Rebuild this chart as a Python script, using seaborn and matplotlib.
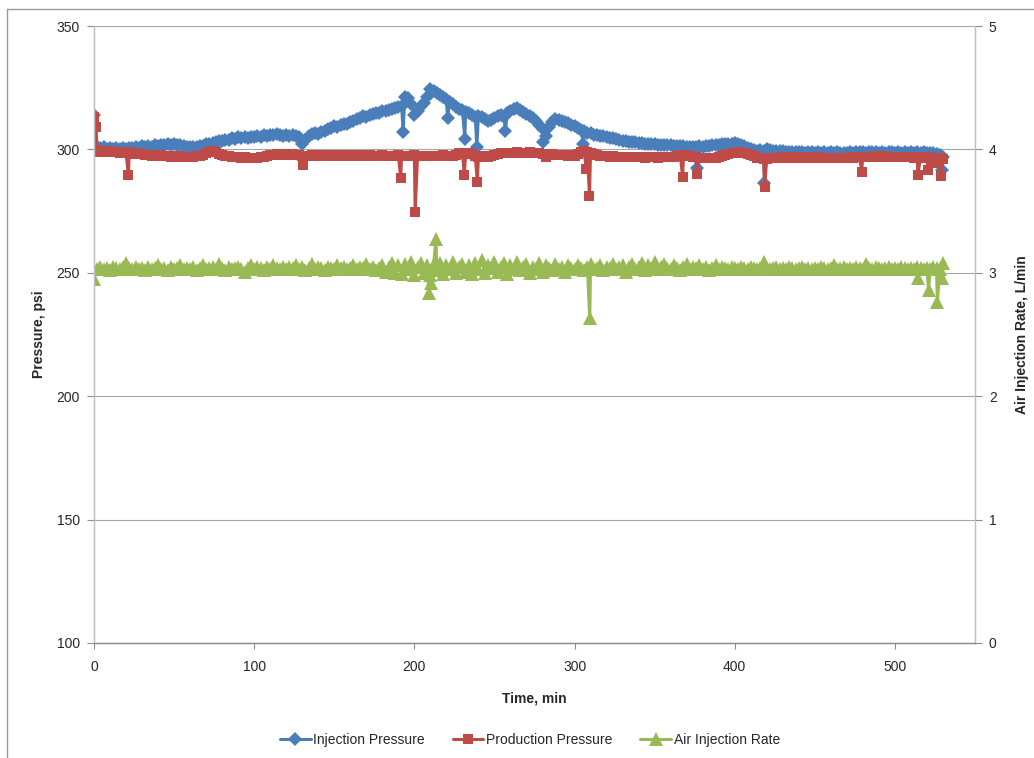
import numpy as np
import pandas as pd
import matplotlib
matplotlib.use("Agg")
import matplotlib.pyplot as plt
from matplotlib.lines import Line2D
import seaborn as sns

sns.set_theme(style="white")
plt.rcParams["font.family"] = ["Liberation Sans Narrow", "Liberation Sans", "DejaVu Sans"]

# Readings logged every 2 minutes, 0-530 min
inj_pressure = [
    314.0, 300.9, 300.5, 300.8, 300.3, 300.6, 300.2, 300.5, 300.1, 300.4, 300.2, 300.6, 300.4, 300.9, 300.7,
    301.2, 300.9, 301.4, 301.1, 301.6, 301.3, 301.9, 301.6, 302.2, 301.8, 302.0, 301.6, 301.8, 301.3, 301.1,
    300.8, 301.1, 300.9, 301.5, 301.4, 302.0, 302.3, 302.7, 302.9, 303.4, 303.3, 303.9, 304.0, 304.5, 304.3,
    305.0, 304.7, 305.2, 304.8, 305.1, 304.9, 305.4, 305.2, 305.7, 305.5, 306.0, 305.7, 306.1, 305.8, 305.6,
    305.8, 305.4, 305.7, 305.3, 305.1, 302.0, 303.8, 305.4, 306.2, 306.5, 306.3, 307.0, 307.6, 308.3, 308.7,
    309.3, 309.0, 309.8, 310.4, 310.2, 311.0, 311.7, 312.4, 312.9, 313.5, 313.3, 314.0, 314.2, 314.6, 314.9,
    315.4, 315.7, 316.0, 316.4, 316.8, 317.1, 317.6, 321.2, 320.8, 318.5, 314.0, 315.5, 317.4, 319.0, 321.3,
    324.3, 323.6, 322.8, 322.0, 321.2, 320.3, 319.2, 318.2, 317.3, 316.5, 315.8, 315.0, 314.6, 313.8, 313.0,
    313.6, 313.0, 312.2, 311.6, 312.0, 312.8, 313.6, 313.9, 313.2, 314.6, 315.4, 316.2, 316.6, 316.0, 315.2,
    314.2, 313.4, 312.6, 311.4, 310.0, 308.3, 305.5, 309.0, 311.3, 312.2, 312.0, 311.6, 311.0, 310.6, 310.0,
    309.4, 308.7, 308.0, 307.4, 306.8, 306.5, 306.0, 305.8, 305.4, 305.3, 304.9, 304.6, 304.5, 304.1, 303.8,
    303.6, 303.3, 303.2, 302.9, 302.8, 302.5, 302.6, 302.3, 302.2, 302.0, 302.1, 301.8, 301.9, 301.7, 301.6,
    301.7, 301.4, 301.5, 301.2, 301.3, 301.0, 301.1, 300.9, 301.0, 301.2, 301.1, 301.4, 301.5, 301.7, 301.6,
    301.9, 302.0, 302.1, 302.3, 302.2, 302.4, 302.1, 301.8, 301.2, 300.6, 300.0, 299.7, 299.5, 299.6, 299.3,
    300.1, 299.8, 299.5, 299.4, 299.2, 299.3, 299.0, 299.1, 298.9, 299.0, 298.8, 298.9, 298.7, 298.9, 298.8,
    298.7, 298.9, 298.6, 298.8, 298.7, 298.9, 298.6, 298.8, 298.5, 298.7, 298.6, 298.8, 298.7, 298.9, 298.8,
    298.9, 298.7, 299.0, 298.8, 298.9, 298.7, 298.8, 298.6, 298.8, 298.9, 298.7, 298.8, 298.6, 298.8, 298.7,
    298.8, 298.6, 298.9, 298.7, 298.8, 298.6, 298.7, 298.4, 298.1, 297.6, 297.1,
]
inj_spike_time = [193.0, 220.7, 231.5, 239.0, 256.8, 280.5, 305.5, 376.5, 418.5, 529.5]
inj_spike_value = [307.2, 312.6, 304.3, 301.0, 307.5, 302.8, 302.0, 292.5, 286.5, 291.5]

prod_pressure = [
    313.0, 299.6, 299.1, 299.4, 298.9, 299.2, 298.8, 299.1, 298.7, 298.9, 298.5, 298.8, 298.3, 298.6, 298.2,
    298.0, 297.7, 297.9, 297.5, 297.8, 297.3, 297.6, 297.2, 297.4, 297.0, 297.3, 296.9, 297.2, 296.8, 297.0,
    297.1, 296.9, 297.3, 297.5, 297.9, 298.4, 299.0, 299.4, 298.9, 298.3, 297.8, 297.5, 297.2, 297.0, 296.8,
    296.9, 296.6, 296.8, 296.5, 296.7, 296.4, 296.6, 296.8, 297.1, 297.4, 297.7, 297.9, 298.1, 297.8, 298.0,
    297.7, 297.9, 298.1, 297.8, 297.6, 297.3, 297.5, 297.4, 297.7, 297.5, 297.3, 297.6, 297.4, 297.7, 297.5,
    297.4, 297.6, 297.3, 297.5, 297.7, 297.4, 297.6, 297.3, 297.5, 297.7, 297.4, 297.6, 297.3, 297.5, 297.4,
    297.6, 297.3, 297.5, 297.2, 297.4, 297.6, 297.3, 297.5, 297.2, 297.4, 297.6, 297.3, 297.5, 297.2, 297.4,
    297.3, 297.5, 297.2, 297.4, 297.6, 297.3, 297.5, 297.2, 297.8, 298.4, 298.6, 298.3, 298.5, 298.0, 297.4,
    297.0, 297.2, 296.9, 297.1, 297.4, 297.8, 298.2, 298.4, 298.6, 298.5, 298.7, 298.6, 298.8, 298.5, 298.7,
    298.6, 298.8, 298.5, 298.7, 298.4, 298.1, 296.9, 297.6, 298.0, 297.8, 297.9, 297.6, 297.8, 297.5, 297.7,
    297.5, 298.0, 298.8, 299.2, 299.0, 298.6, 298.1, 297.8, 297.5, 297.3, 297.4, 297.1, 297.2, 296.9, 297.1,
    296.9, 297.1, 296.8, 297.0, 296.8, 297.1, 296.9, 296.7, 297.0, 296.8, 297.0, 296.7, 296.9, 296.8, 297.0,
    296.9, 297.1, 297.3, 297.6, 297.5, 297.7, 297.4, 297.1, 296.9, 296.7, 296.5, 296.6, 296.4, 296.6, 296.5,
    296.8, 297.2, 297.7, 298.1, 298.5, 298.7, 298.9, 298.7, 298.6, 298.3, 297.8, 297.2, 296.7, 296.4, 296.2,
    296.3, 296.5, 296.4, 296.7, 296.6, 296.8, 296.7, 296.9, 296.7, 296.8, 296.6, 296.9, 296.7, 296.8, 296.9,
    296.7, 296.8, 296.6, 296.7, 296.5, 296.6, 296.4, 296.6, 296.5, 296.7, 296.6, 296.8, 296.7, 296.9, 296.8,
    296.9, 297.0, 296.8, 297.1, 297.2, 297.0, 297.3, 297.1, 296.9, 297.0, 296.8, 296.9, 297.0, 296.8, 296.9,
    296.8, 296.6, 296.9, 296.7, 297.0, 296.8, 296.5, 296.7, 296.4, 296.6, 296.3,
]
prod_spike_time = [1.2, 21.5, 130.5, 191.5, 200.5, 231.2, 239.3, 307.3, 309.3,
                   367.5, 376.7, 418.7, 479.2, 514.3, 520.5, 524.3, 528.5]
prod_spike_value = [309.0, 289.5, 293.5, 288.4, 274.6, 289.6, 286.8, 292.0, 281.0,
                    288.7, 290.2, 284.9, 291.0, 289.6, 291.7, 294.4, 289.2]

air_rate = [
    2.95, 3.03, 3.05, 3.03, 3.04, 3.02, 3.05, 3.04, 3.03, 3.05, 3.08, 3.04, 3.03, 3.05, 3.03,
    3.04, 3.02, 3.05, 3.03, 3.04, 3.06, 3.03, 3.04, 3.02, 3.05, 3.03, 3.04, 3.06, 3.03, 3.04,
    3.03, 3.05, 3.02, 3.04, 3.06, 3.03, 3.04, 3.05, 3.03, 3.07, 3.04, 3.02, 3.05, 3.03, 3.04,
    3.05, 3.03, 3.01, 3.04, 3.06, 3.03, 3.05, 3.04, 3.02, 3.05, 3.03, 3.06, 3.04, 3.03, 3.05,
    3.03, 3.05, 3.04, 3.06, 3.03, 3.05, 3.02, 3.04, 3.07, 3.03, 3.05, 3.04, 3.02, 3.05, 3.04,
    3.03, 3.06, 3.04, 3.05, 3.03, 3.04, 3.06, 3.03, 3.05, 3.04, 3.07, 3.03, 3.05, 3.02, 3.04,
    3.06, 3.01, 3.05, 3.08, 3.00, 3.06, 2.99, 3.07, 3.03, 3.09, 2.98, 3.05, 3.08, 3.00, 3.06,
    2.98, 3.07, 3.02, 3.08, 2.99, 3.06, 3.03, 3.09, 3.00, 3.05, 3.07, 3.01, 3.06, 2.99, 3.08,
    3.03, 3.10, 3.00, 3.06, 3.04, 3.09, 3.01, 3.05, 3.08, 2.99, 3.06, 3.03, 3.09, 3.02, 3.05,
    3.07, 3.00, 3.05, 3.03, 3.08, 3.01, 3.06, 3.04, 3.02, 3.07, 3.03, 3.05, 3.01, 3.06, 3.04,
    3.03, 3.06, 3.04, 3.02, 3.05, 3.07, 3.03, 3.04, 3.06, 3.02, 3.05, 3.04, 3.07, 3.03, 3.05,
    3.06, 3.01, 3.05, 3.07, 3.03, 3.05, 3.08, 3.02, 3.06, 3.04, 3.09, 3.03, 3.05, 3.07, 3.04,
    3.03, 3.06, 3.04, 3.02, 3.05, 3.07, 3.03, 3.05, 3.04, 3.06, 3.03, 3.05, 3.02, 3.04, 3.06,
    3.03, 3.05, 3.04, 3.03, 3.05, 3.04, 3.03, 3.05, 3.04, 3.03, 3.05, 3.04, 3.03, 3.04, 3.09,
    3.04, 3.03, 3.04, 3.05, 3.03, 3.04, 3.03, 3.05, 3.04, 3.03, 3.04, 3.05, 3.03, 3.04, 3.03,
    3.04, 3.03, 3.05, 3.04, 3.03, 3.04, 3.06, 3.03, 3.04, 3.05, 3.03, 3.04, 3.03, 3.05, 3.04,
    3.03, 3.07, 3.04, 3.03, 3.05, 3.04, 3.03, 3.04, 3.05, 3.03, 3.04, 3.03, 3.05, 3.04, 3.03,
    3.04, 3.03, 3.05, 3.04, 3.03, 3.04, 3.03, 3.05, 3.04, 3.03, 3.08,
]
air_spike_time = [209.0, 210.5, 213.5, 309.5, 514.5, 521.0, 526.5, 529.5]
air_spike_value = [2.84, 2.92, 3.27, 2.63, 2.96, 2.86, 2.76, 2.96]

series_names = ["Injection Pressure", "Production Pressure", "Air Injection Rate"]
x_ticks = [0, 100, 200, 300, 400, 500]
left_ticks = [100, 150, 200, 250, 300, 350]
right_ticks = [0, 1, 2, 3, 4, 5]

BLUE = "#4A7EBB"
RED = "#BE4B48"
GREEN = "#98B954"
GRID = "#A6A6A6"
AXIS = "#8C8C8C"

MARKERS = [("D", 7.0), ("s", 7.8), ("^", 9.6)]


def merged(values, spike_t, spike_v):
    times = np.arange(len(values)) * 2.0
    df = pd.DataFrame({"t": np.concatenate([times, spike_t]),
                       "v": np.concatenate([values, spike_v])})
    return df.sort_values("t", kind="stable").reset_index(drop=True)


inj = merged(inj_pressure, inj_spike_time, inj_spike_value)
prod = merged(prod_pressure, prod_spike_time, prod_spike_value)
air = merged(air_rate, air_spike_time, air_spike_value)

fig = plt.figure(figsize=(10.34, 7.58), dpi=100)
fig.patch.set_facecolor("white")
ax = fig.add_axes([94 / 1034, 1 - 643 / 758, (975 - 94) / 1034, (643 - 26) / 758])
ax2 = ax.twinx()

line_kw = dict(linewidth=2.2, markeredgewidth=0, sort=False, estimator=None, legend=False)
sns.lineplot(data=inj, x="t", y="v", ax=ax, color=BLUE,
             marker=MARKERS[0][0], markersize=MARKERS[0][1], **line_kw)
sns.lineplot(data=prod, x="t", y="v", ax=ax, color=RED,
             marker=MARKERS[1][0], markersize=MARKERS[1][1], **line_kw)
sns.lineplot(data=air, x="t", y="v", ax=ax2, color=GREEN,
             marker=MARKERS[2][0], markersize=MARKERS[2][1], **line_kw)

ax.set_xlim(0, 550)
ax.set_ylim(100, 350)
ax2.set_ylim(0, 5)
ax.set_xticks(x_ticks)
ax.set_yticks(left_ticks)
ax2.set_yticks(right_ticks)
ax.yaxis.grid(True, color=GRID, linewidth=0.8)
ax.xaxis.grid(False)
ax2.grid(False)

for a in (ax, ax2):
    a.spines["top"].set_visible(False)
    a.spines["left"].set_color("#BFBFBF")
    a.spines["right"].set_color("#BFBFBF")
    a.spines["bottom"].set_color(AXIS)
    for sp in a.spines.values():
        sp.set_linewidth(0.9)
    a.set_facecolor("none")

ax.tick_params(axis="y", which="major", direction="out", length=5, width=0.8,
               color=AXIS, labelsize=10, pad=5, left=True)
ax.tick_params(axis="x", which="major", direction="out", length=4, width=0.8,
               color=AXIS, labelsize=10, pad=8, bottom=True)
ax2.tick_params(axis="y", which="major", direction="out", length=5, width=0.8,
                color=AXIS, labelsize=10, pad=5, right=True)

ax.set_xlabel("Time, min", fontsize=10, fontweight="bold", labelpad=13)
ax.set_ylabel("Pressure, psi", fontsize=10, fontweight="bold", labelpad=8)
ax2.set_ylabel("Air Injection Rate, L/min", fontsize=10, fontweight="bold", labelpad=13)

handles = [
    Line2D([], [], color=c, linewidth=2.2, marker=m, markersize=s, markeredgewidth=0)
    for c, (m, s) in zip([BLUE, RED, GREEN], MARKERS)
]
fig.legend(handles, series_names, loc="center", bbox_to_anchor=(530 / 1034, 1 - 740 / 758),
           ncol=3, frameon=False, fontsize=10, handlelength=2.2, handletextpad=0.2,
           columnspacing=2.0)

# Chart-area border (top and left edges)
fig.add_artist(Line2D([7 / 1034, 7 / 1034], [0, 1 - 9 / 758], transform=fig.transFigure,
                      color="#9A9A9A", linewidth=1.0))
fig.add_artist(Line2D([7 / 1034, 1], [1 - 9 / 758, 1 - 9 / 758], transform=fig.transFigure,
                      color="#9A9A9A", linewidth=1.0))

fig.savefig("out.png", dpi=100, facecolor="white")
